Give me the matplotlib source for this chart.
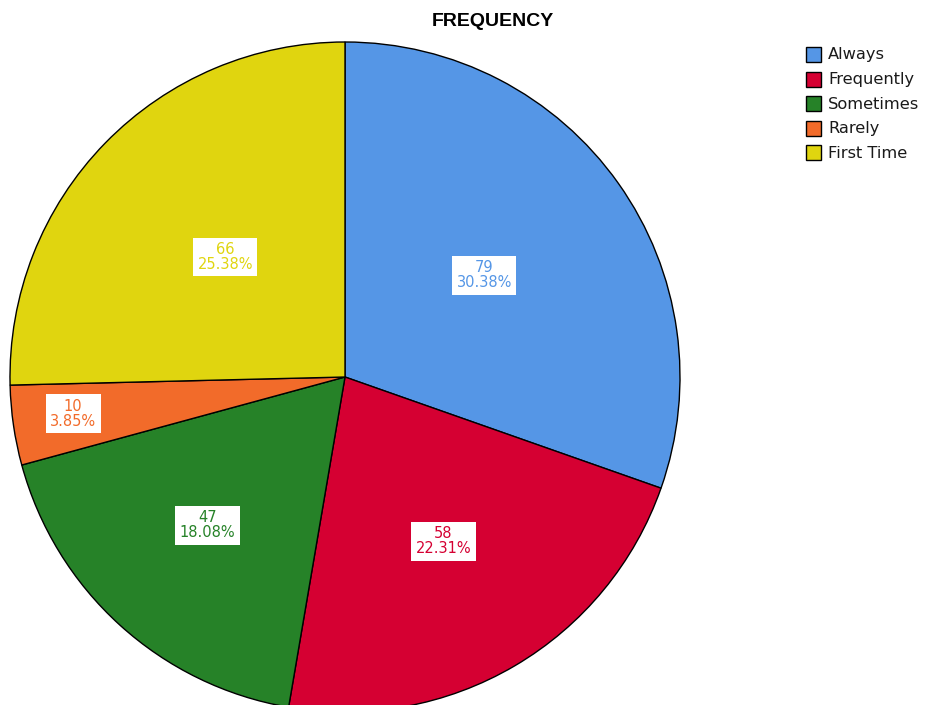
import matplotlib
matplotlib.use("Agg")
import matplotlib.pyplot as plt
from matplotlib.patches import Rectangle
import numpy as np

# response counts per category
categories = ["Always", "Frequently", "Sometimes", "Rarely", "First Time"]
counts = [79, 58, 47, 10, 66]
colors = ["#5596e6", "#d50032", "#268228", "#f26b2a", "#e0d50f"]

# how far out (fraction of radius) each label box sits
label_radius = [0.51, 0.58, 0.61, 0.82, 0.50]

W, H = 927, 705
fig = plt.figure(figsize=(W / 100, H / 100), dpi=100)
ax = fig.add_axes([0, 0, 1, 1])

cx, cy, R = 345, H - 377, 335
total = sum(counts)
wedges, _ = ax.pie(counts, colors=colors, startangle=90, counterclock=False,
                   center=(cx, cy), radius=R, frame=True,
                   wedgeprops=dict(edgecolor="black", linewidth=1.0))
ax.set_xlim(0, W)
ax.set_ylim(0, H)
ax.set_aspect("equal")
ax.axis("off")

for w, n, c, fr in zip(wedges, counts, colors, label_radius):
    mid = np.deg2rad((w.theta1 + w.theta2) / 2)
    x = cx + fr * R * np.cos(mid)
    y = cy + fr * R * np.sin(mid) + 3
    ax.text(x, y, f"{n}\n{n / total * 100:.2f}%", ha="center", va="center",
            color=c, fontsize=10.5, family="DejaVu Sans", linespacing=1.0,
            bbox=dict(boxstyle="square,pad=0.3", facecolor="white",
                      edgecolor="none"))

ax.text(493, H - 22, "FREQUENCY", ha="center", va="center",
        fontsize=14, fontweight="bold", family="Liberation Sans")

# legend drawn as boxes plus labels
for i, (name, c) in enumerate(zip(categories, colors)):
    y = H - 55 - i * 24.6
    ax.add_patch(Rectangle((806, y - 7), 15, 15, facecolor=c,
                           edgecolor="black", linewidth=1.0))
    ax.text(828, y, name, ha="left", va="center", fontsize=11.7,
            family="DejaVu Sans", color="#1a1a1a")

fig.savefig("out.png", dpi=100)
